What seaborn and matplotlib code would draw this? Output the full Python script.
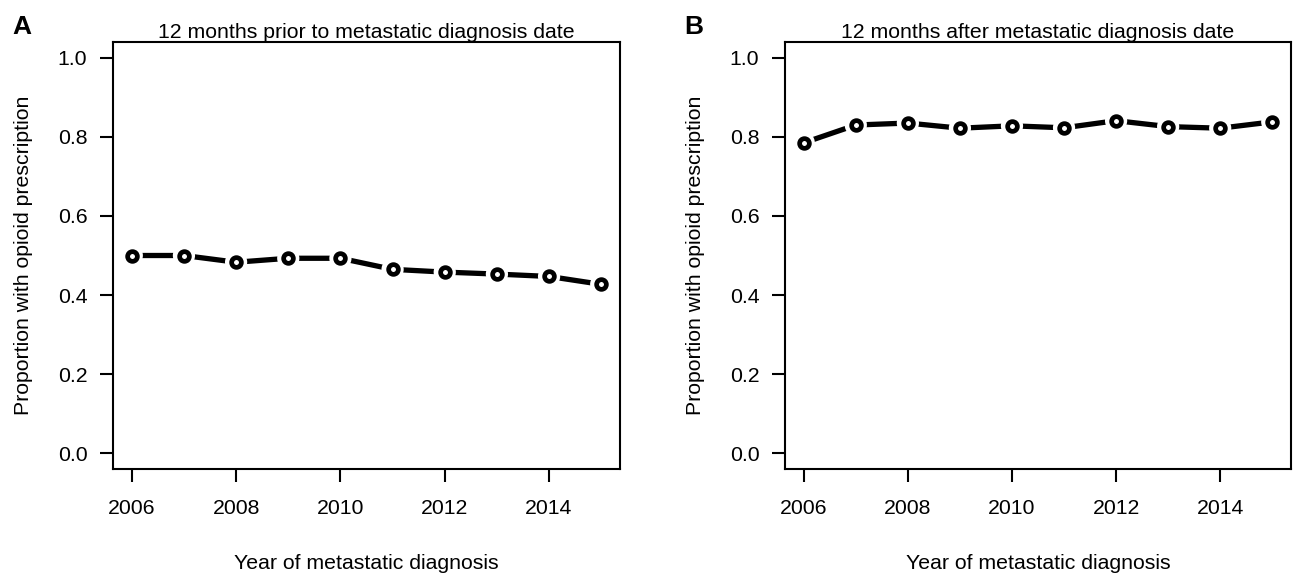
import numpy as np
import pandas as pd
import matplotlib
matplotlib.use("Agg")
import matplotlib.pyplot as plt
import seaborn as sns

years = [2006, 2007, 2008, 2009, 2010, 2011, 2012, 2013, 2014, 2015]
prior_12m = [0.500, 0.500, 0.483, 0.493, 0.493, 0.465, 0.458, 0.453, 0.447, 0.427]
after_12m = [0.785, 0.830, 0.835, 0.822, 0.828, 0.823, 0.841, 0.826, 0.822, 0.838]
titles = ["12 months prior to metastatic diagnosis date",
          "12 months after metastatic diagnosis date"]
panel_letters = ["A", "B"]
x_ticks = [2006, 2008, 2010, 2012, 2014]
y_ticks = [0.0, 0.2, 0.4, 0.6, 0.8, 1.0]
xlabel = "Year of metastatic diagnosis"
ylabel = "Proportion with opioid prescription"

sns.set_style("ticks")
plt.rcParams['font.family'] = ['Liberation Sans', 'DejaVu Sans']
plt.rcParams['text.color'] = 'black'
plt.rcParams['axes.labelcolor'] = 'black'
plt.rcParams['xtick.color'] = 'black'
plt.rcParams['ytick.color'] = 'black'

W, H = 1293, 574
fig = plt.figure(figsize=(W / 100, H / 100), dpi=100)

boxes = [(113, 42, 620, 469), (785, 42, 1291, 469)]
series = [prior_12m, after_12m]
fs = 15.3

for i, (l, t, r, b) in enumerate(boxes):
    ax = fig.add_axes([l / W, (H - b) / H, (r - l) / W, (b - t) / H])
    df = pd.DataFrame({"year": years, "value": series[i]})
    sns.lineplot(data=df, x="year", y="value", ax=ax, color="black",
                 linewidth=3.8, solid_capstyle="butt", zorder=2)
    sns.scatterplot(data=df, x="year", y="value", ax=ax, s=16 ** 2,
                    color="white", edgecolor="none", linewidth=0, zorder=3)
    sns.scatterplot(data=df, x="year", y="value", ax=ax, s=7.0 ** 2,
                    facecolor="white", edgecolor="black", linewidth=3.4, zorder=4)
    ax.set_xlim(2006 - 0.36, 2015 + 0.36)
    ax.set_ylim(-0.04, 1.04)
    ax.set_xticks(x_ticks)
    ax.set_xticklabels([str(v) for v in x_ticks], fontsize=fs)
    ax.set_yticks(y_ticks)
    ax.set_yticklabels([f"{v:.1f}" for v in y_ticks], fontsize=fs)
    ax.tick_params(axis="both", direction="out", length=9.5, width=1.5, color="black",
                   labelcolor="black")
    ax.tick_params(axis="x", pad=12)
    ax.tick_params(axis="y", pad=9)
    for sp in ax.spines.values():
        sp.set_visible(True)
        sp.set_linewidth(1.5)
        sp.set_color("black")
    ax.set_xlabel(xlabel, fontsize=fs, color="black")
    ax.set_ylabel(ylabel, fontsize=fs, color="black")
    ax.xaxis.set_label_coords(0.5, -0.20)
    ax.yaxis.set_label_coords(-0.158, 0.5)
    ax.set_title(titles[i], fontsize=fs, pad=2, color="black")
    fig.text((l - 101) / W, 1 - 27 / H, panel_letters[i], fontsize=19,
             fontweight="bold", ha="left", va="center", color="black")

fig.savefig("out.png", dpi=100, facecolor="white")
